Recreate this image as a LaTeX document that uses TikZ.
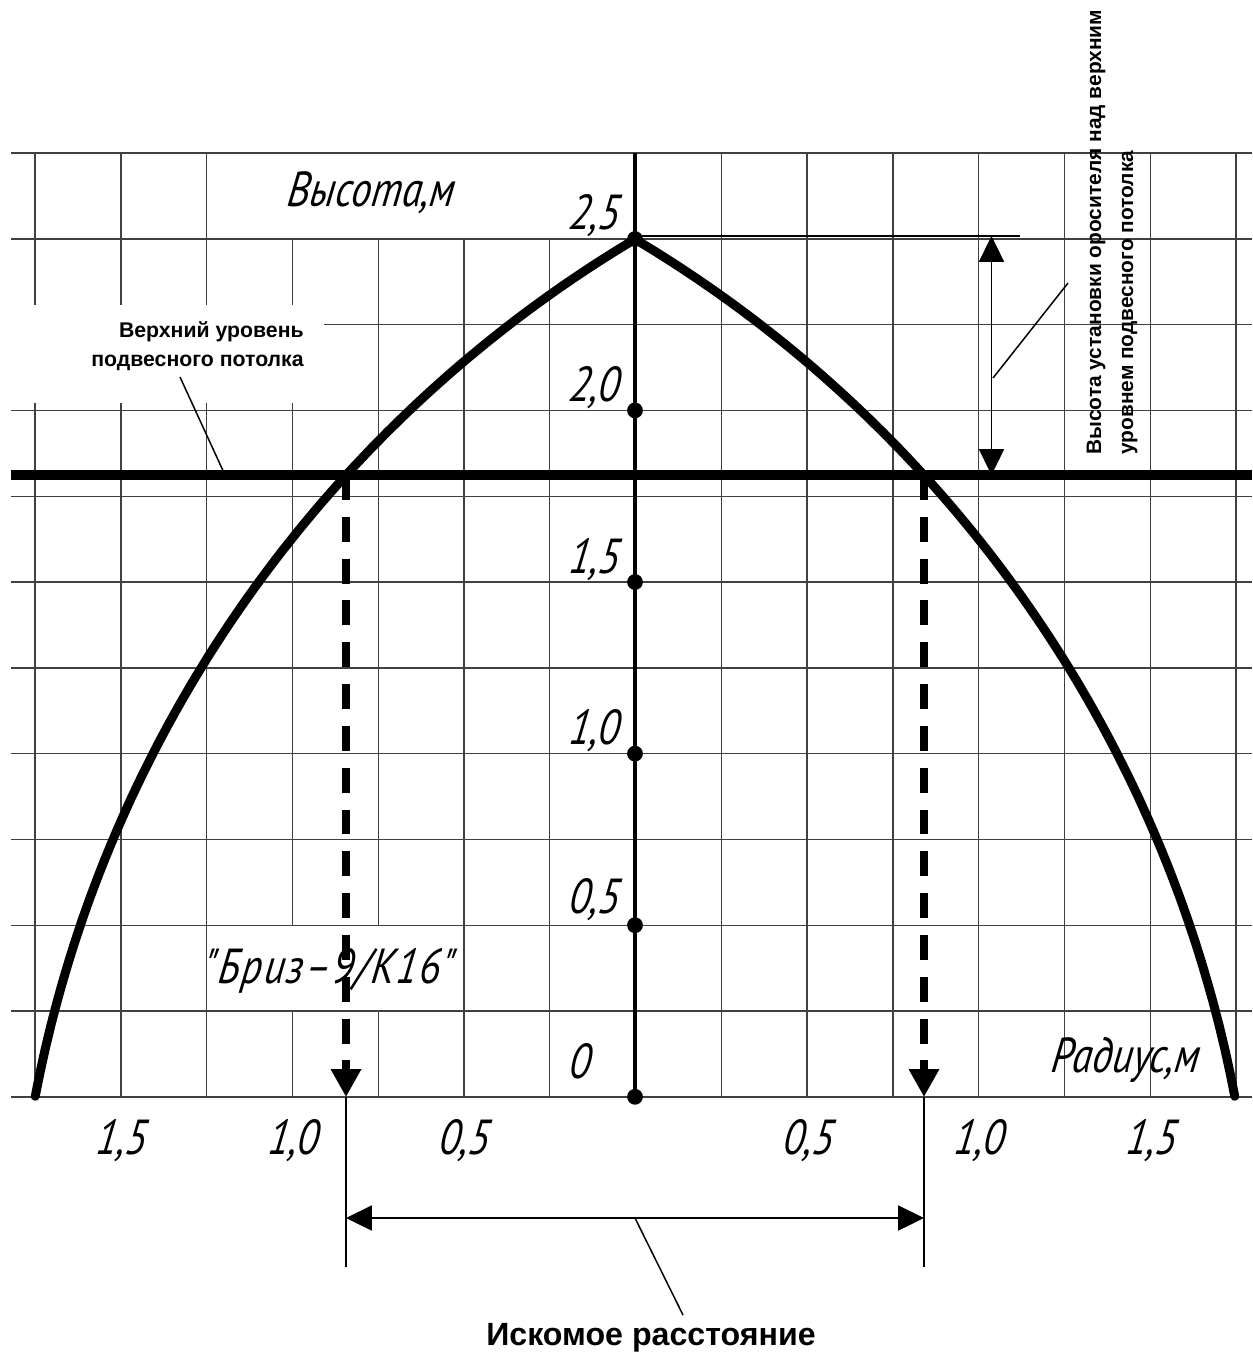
\documentclass[tikz,border=0pt]{standalone}
\usepackage{fontspec}
\setmainfont{Liberation Sans}
\newfontfamily\gost[FakeStretch=0.82, ItalicFeatures={FakeSlant=0.12}]{PT Sans}
\usetikzlibrary{arrows.meta}
\begin{document}
\begin{tikzpicture}[x=0.02cm,y=-0.02cm,
  gl/.style={line width=0.8pt, black!75},
  axisl/.style={line width=2.6pt, black},
  ceil/.style={line width=6.2pt, black},
  curve/.style={line width=5.1pt, black, line cap=round, line join=round},
  dashl/.style={line width=4pt, black, dash pattern=on 14.2pt off 9.6pt, -{Triangle[length=15.9pt,width=16.4pt]}},
  diml/.style={line width=1.1pt, black},
  dimtips/.style={{Triangle[length=14.7pt,width=14.2pt]}-{Triangle[length=14.7pt,width=14.2pt]}},
  extl/.style={line width=0.85pt, black},
  leader/.style={line width=0.85pt, black},
  dotn/.style={circle, fill=black, inner sep=0pt, minimum size=9pt},
  glab/.style={font=\gost\itshape\fontsize{28}{30}\selectfont, inner sep=0pt},
  blab/.style={font=\bfseries\fontsize{12.1}{14}\selectfont, inner sep=0pt},
  vlab/.style={font=\bfseries\fontsize{11.9}{14}\selectfont, inner sep=0pt, rotate=90, anchor=base west},
  clab/.style={font=\bfseries\fontsize{18.3}{20}\selectfont, inner sep=0pt}
]
\useasboundingbox (0,0) rectangle (1252,1352);
\fill[white] (0,0) rectangle (1252,1352);

% ---- grid ----
\foreach \y in {153,238.8,410.4,496.2,582,667.8,753.6,839.4,925.2,1011,1096.8}
  \draw[gl] (11,\y) -- (1252,\y);
\draw[gl] (324,324.6) -- (1252,324.6);
\foreach \x in {35,120.8,206.6} {
  \draw[gl] (\x,153) -- (\x,305);
  \draw[gl] (\x,403) -- (\x,1096.8);
}
\draw[gl] (292.4,238.8) -- (292.4,305);
\draw[gl] (292.4,403) -- (292.4,925.2);
\draw[gl] (292.4,1011) -- (292.4,1096.8);
\draw[gl] (378.2,238.8) -- (378.2,925.2);
\draw[gl] (378.2,1011) -- (378.2,1096.8);
\foreach \x in {463.9,549.7} \draw[gl] (\x,238.8) -- (\x,1096.8);
\foreach \x in {721.3,807.1,892.9,978.7,1064.5,1150.3,1236.1} \draw[gl] (\x,153) -- (\x,1096.8);

% ---- key points ----
\coordinate (atop) at (635,153);
\coordinate (ceilL) at (11,475);
\coordinate (ceilR) at (1252,475);
\coordinate (xl) at (346,475);
\coordinate (xr) at (924,475);
\coordinate (bl) at (346,1097);
\coordinate (br) at (924,1097);

% ceiling line and axis
\draw[ceil] (ceilL) -- (ceilR);
\draw[axisl] (atop) -- (635,1097);

% axis dots
\node[dotn] (d25) at (635,239) {};
\node[dotn] (d20) at (635,410.4) {};
\node[dotn] (d15) at (635,582) {};
\node[dotn] (d10) at (635,753.6) {};
\node[dotn] (d05) at (635,925.2) {};
\node[dotn] (d00) at (635,1096.8) {};

% spray curve (circular arcs)
\draw[curve] plot[domain=190.8:239.2, samples=90] ({1289.6+1277*cos(\x)},{1335.6+1277*sin(\x)})
  -- plot[domain=-59.2:-10.8, samples=90] ({-19.6+1277*cos(\x)},{1335.6+1277*sin(\x)});

% dashed projections
\draw[dashl] (xr) -- (br);

% height dimension
\coordinate (ext0) at (635,236);
\coordinate (ext1) at (1020,236);
\coordinate (ht) at (991.5,236);
\coordinate (hb) at (991.5,475);
\draw[extl] (ext0) -- (ext1);
\draw[diml, dimtips] (ht) -- (hb);
\coordinate (hl1) at (993,378);
\coordinate (hl2) at (1068,283);
\draw[leader] (hl1) -- (hl2);
\node[vlab] (vt1) at (1101,455) {Высота установки оросителя над верхним};
\node[vlab] (vt2) at (1133,455) {уровнем подвесного потолка};

% distance dimension
\coordinate (el1) at (346,1267);
\coordinate (er1) at (924,1267);
\draw[extl] (bl) -- (el1);
\draw[extl] (br) -- (er1);
\coordinate (dl) at (346,1218);
\coordinate (dr) at (924,1218);
\draw[diml, dimtips] (dl) -- (dr);
\coordinate (lm) at (635,1218);
\node[clab, anchor=base] (dist) at (651,1345) {Искомое расстояние};
\coordinate (lm2) at (683,1315);
\draw[leader] (lm) -- (lm2);

% ceiling label
\node[blab, anchor=base east] (cl1) at (304,337) {Верхний уровень};
\node[blab, anchor=base east] (cl2) at (304,366) {подвесного потолка};
\coordinate (cll) at (180,377);
\coordinate (clc) at (225,475);
\draw[leader] (cll) -- (clc);

% axis labels
\node[glab, anchor=base west] (hlab) at (286,206) {Высота,м};
\node[glab, anchor=base east] (t25) at (619,229) {2,5};
\node[glab, anchor=base east] (t20) at (619,401) {2,0};
\node[glab, anchor=base east] (t15) at (619,573) {1,5};
\node[glab, anchor=base east] (t10) at (619,744) {1,0};
\node[glab, anchor=base east] (t05) at (619,913) {0,5};
\node[glab, anchor=base west] (t00) at (568,1078) {0};
\node[glab, anchor=base west] (rlab) at (1050,1072) {Радиус,м};
\node[glab, anchor=base west] (brand) at (203,983) {\addfontfeature{LetterSpace=4}\char34 Бриз–9/К16\char34};

\node[glab, anchor=base] (r15l) at (120.8,1154) {1,5};
\node[glab, anchor=base] (r10l) at (292.4,1154) {1,0};
\node[glab, anchor=base] (r05l) at (463.9,1154) {0,5};
\node[glab, anchor=base] (r05r) at (807.1,1154) {0,5};
\node[glab, anchor=base] (r10r) at (978.7,1154) {1,0};
\node[glab, anchor=base] (r15r) at (1150.3,1154) {1,5};

% dashed line drawn over the label
\draw[dashl] (xl) -- (bl);
\end{tikzpicture}
\end{document}
